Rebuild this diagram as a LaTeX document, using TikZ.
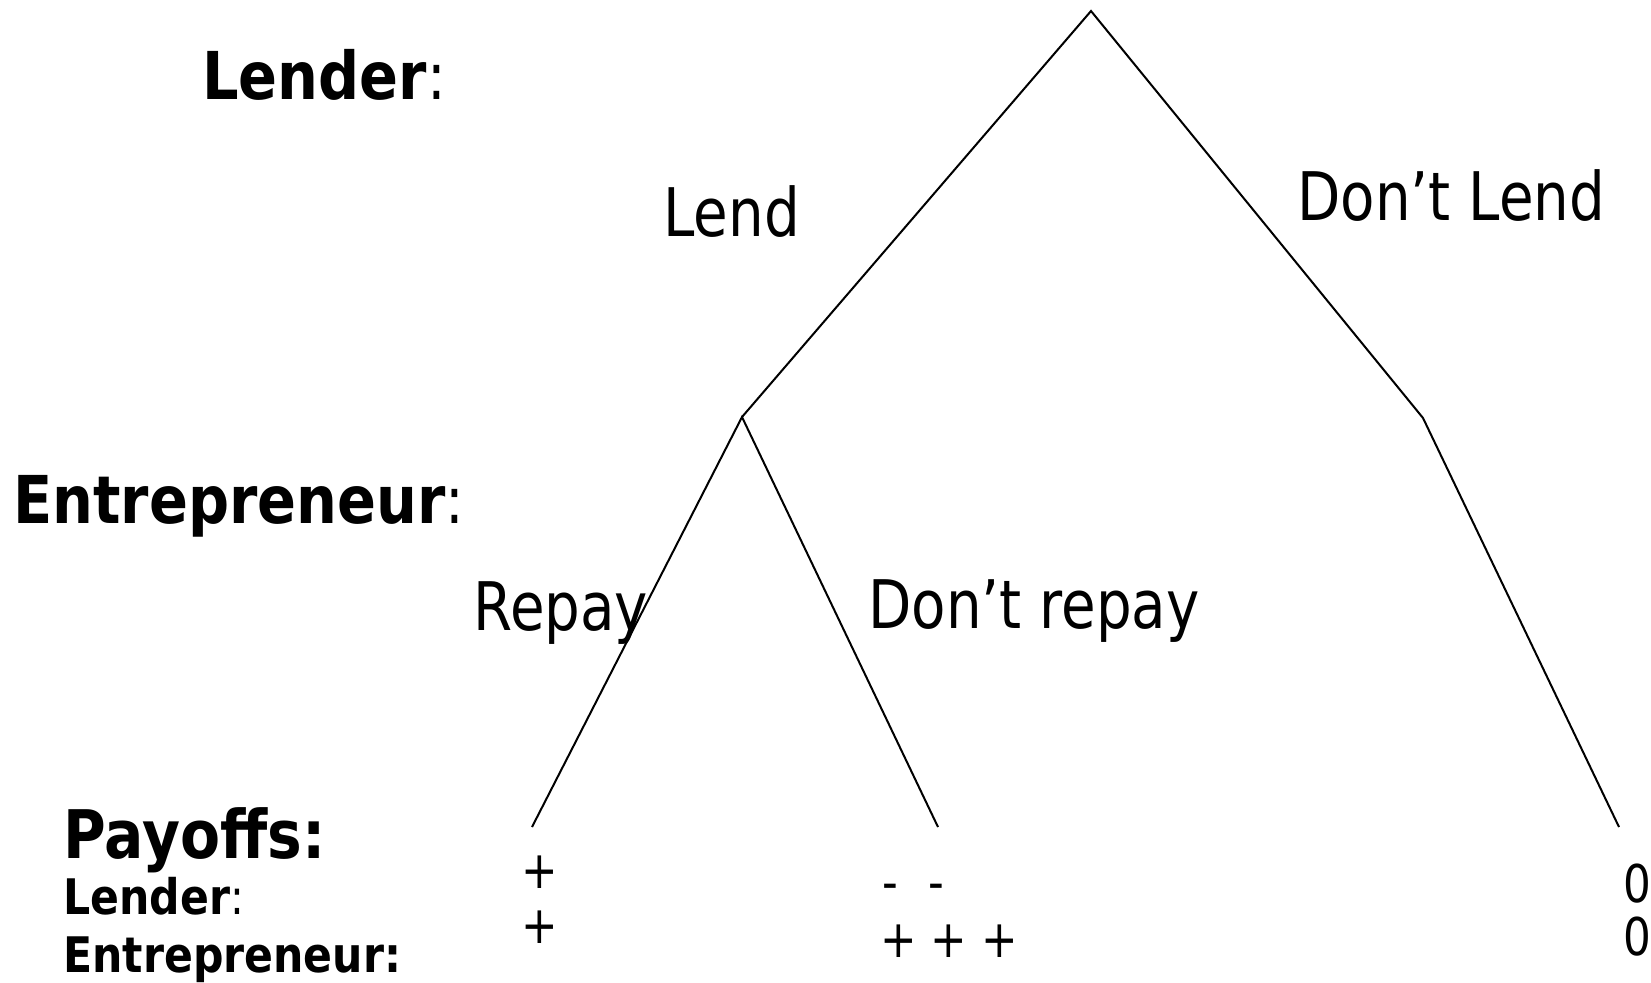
\documentclass[tikz,border=0pt]{standalone}
\usepackage{fontspec}
\setmainfont{DejaVu Sans}[FakeStretch=0.84, BoldFeatures={FakeStretch=0.87}]
\begin{document}
\begin{tikzpicture}[x=0.5pt,y=-0.5pt,
  branch/.style={line width=1pt, line join=miter},
  big/.style={anchor=base west, inner sep=0pt, font=\fontsize{33.5}{40}\selectfont},
  head/.style={anchor=base west, inner sep=0pt, font=\fontsize{33}{40}\selectfont},
  small/.style={anchor=base west, inner sep=0pt, font=\fontsize{26}{30}\selectfont},
  smallhead/.style={anchor=base west, inner sep=0pt, font=\fontsize{24.5}{29}\selectfont}]
\useasboundingbox (0,0) rectangle (1651,982);
% tree
\coordinate (root) at (1091,11);
\coordinate (lend) at (742,417);
\coordinate (nolend) at (1423,418);
\coordinate (repay) at (532,827);
\coordinate (norepay) at (938,827);
\coordinate (zero) at (1619,827);
\draw[branch] (lend) -- (root) -- (nolend) -- (zero);
\draw[branch] (repay) -- (lend) -- (norepay);
% player labels
\node[head] (hLender) at (202,99) {\textbf{Lender}:};
\node[head] (hEntre) at (13,523) {\textbf{Entrepreneur}:};
% action labels
\node[big] (tLend) at (663,236) {Lend};
\node[big] (tDontLend) at (1297,220) {Don’t Lend};
\node[big] (tRepay) at (473,630) {Repay};
\node[big] (tDontRepay) at (868,628) {Don’t repay};
% payoffs
\node[head, font=\fontsize{33.5}{40}\selectfont] (pay) at (63,858) {\textbf{Payoffs:}};
\node[smallhead] (pLender) at (63,914) {\textbf{Lender}:};
\node[smallhead] (pEntre) at (63,972) {\textbf{Entrepreneur:}};
\node[small] (plusA) at (521,888) {+};
\node[small] (plusB) at (521,943) {+};
\node[small] (minusC) at (882,900) {-\hspace{15pt}-};
\node[small] (plusC) at (880,957) {+ + +};
\node[small] (zeroA) at (1623,902) {0};
\node[small] (zeroB) at (1623,955) {0};
\end{tikzpicture}
\end{document}
